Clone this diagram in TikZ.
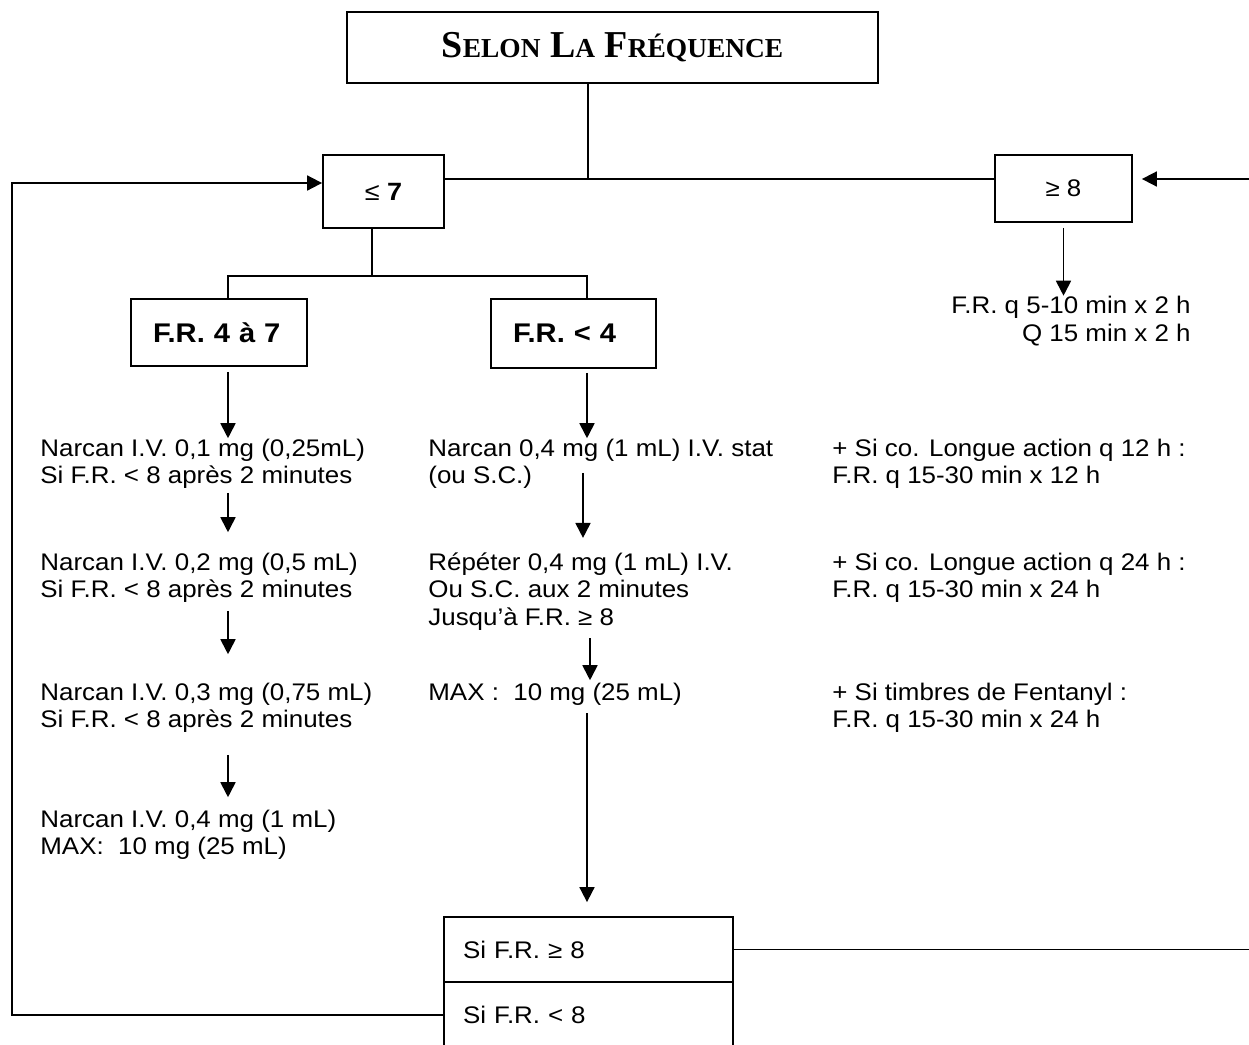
\documentclass[tikz,border=0pt]{standalone}
\usepackage{fontspec}
\setmainfont{Liberation Sans}[FakeStretch=1.08]
\newfontfamily\titrefont{Liberation Serif}
\usetikzlibrary{arrows.meta, positioning}
\newcommand{\petitecap}[1]{{\fontsize{13.7}{16}\selectfont #1}}

\begin{document}
\begin{tikzpicture}[x=0.5pt, y=-0.5pt, font=\fontsize{12}{13.75}\selectfont,
    boite/.style={draw, line width=0.9pt, inner sep=0pt},
    boitefr/.style={boite, align=left, inner xsep=11pt, font=\fontsize{13.5}{16}\selectfont\bfseries},
    boitesi/.style={boite, align=left, text width=125.5pt, inner xsep=9.5pt, minimum width=144.5pt},
    texte/.style={anchor=base west, align=left, inner sep=0pt},
    trait/.style={line width=0.9pt},
    fleche/.style={-{Triangle[length=7.5pt,width=7.5pt]}, line width=0.9pt}]
    % Cadre
    \useasboundingbox (0,0) rectangle (1249,1045);
    % Boites
    \node[boite, minimum width=265.5pt, minimum height=35.5pt] (titre) at (612.5,47.5)
        {\titrefont\bfseries\fontsize{19}{22}\selectfont S\petitecap{ELON} L\petitecap{A} F\petitecap{RÉQUENCE}};
    \node[boite, minimum width=60.5pt, minimum height=36.5pt, font=\fontsize{12.5}{14}\selectfont\bfseries] (le7) at (383.5,191.5) {{\mdseries ≤}~7};
    \node[boite, minimum width=68.5pt, minimum height=33.5pt] (ge8) at (1063.5,188.5) {≥ 8};
    \node[boitefr, text width=66pt, minimum height=33.5pt] (fr47) at (219,332.5) {F.R. 4 à 7};
    \node[boitefr, text width=60.5pt, minimum height=34.5pt] (fr4) at (573.5,333.5) {F.R. < 4};
    \node[boitesi, minimum height=32.5pt] (oui) at (588.5,949.5) {Si F.R. ≥ 8};
    \node[boitesi, minimum height=33pt] (non) at (588.5,1015) {Si F.R. < 8};
    % Textes (ancre : ligne de base de la derniere ligne)
    \node[texte] (lA) at (40,483.5) {Narcan I.V. 0,1 mg (0,25mL)\\Si F.R. < 8 après 2 minutes};
    \node[texte] (lB) at (40,597.5) {Narcan I.V. 0,2 mg (0,5 mL)\\Si F.R. < 8 après 2 minutes};
    \node[texte] (lC) at (40,727.5) {Narcan I.V. 0,3 mg (0,75 mL)\\Si F.R. < 8 après 2 minutes};
    \node[texte] (lD) at (40,854.5) {Narcan I.V. 0,4 mg (1 mL)\\MAX:~ 10 mg (25 mL)};
    \node[texte] (mA) at (428,483.5) {Narcan 0,4 mg (1 mL) I.V. stat\\(ou S.C.)};
    \node[texte] (mB) at (428,625) {Répéter 0,4 mg (1 mL) I.V.\\Ou S.C. aux 2 minutes\\Jusqu’à F.R. ≥ 8};
    \node[texte] (mC) at (428,700) {MAX :~ 10 mg (25 mL)};
    \node[texte] (rA) at (832,483.5) {+ Si co. Longue action q 12 h :\\F.R. q 15-30 min x 12 h};
    \node[texte] (rB) at (832,597.5) {+ Si co. Longue action q 24 h :\\F.R. q 15-30 min x 24 h};
    \node[texte] (rC) at (832,727.5) {+ Si timbres de Fentanyl :\\F.R. q 15-30 min x 24 h};
    \node[texte, anchor=base east, align=right] (rtop) at (1191,341) {F.R. q 5-10 min x 2 h\\Q 15 min x 2 h};
    % Points de jonction
    \coordinate (jonction) at (588,179);
    \coordinate (branche) at (372,276);
    \coordinate (colg) at (228,276);
    \coordinate (colm) at (587,276);
    \coordinate (retourg) at (12,183);
    \coordinate (retourd) at (1262,179);
    % Arbre
    \draw[trait] (titre.south -| jonction) -- (jonction);
    \draw[trait] (le7.east |- jonction) -- (ge8.west |- jonction);
    \draw[trait] (le7.south -| branche) -- (branche);
    \draw[trait] (fr47.north -| colg) -- (colg) -- (colm) -- (fr4.north -| colm);
    % Colonne gauche
    \draw[fleche, shorten <=2.5pt] (fr47.south -| colg) -- (lA.north -| colg);
    \draw[fleche, shorten <=2pt, shorten >=10pt] (lA.south -| colg) -- (lB.north -| colg);
    \draw[fleche, shorten <=4pt, shorten >=14pt] (lB.south -| colg) -- (lC.north -| colg);
    \draw[fleche, shorten <=11pt, shorten >=6pt] (lC.south -| colg) -- (lD.north -| colg);
    % Colonne centrale
    \draw[fleche, shorten <=2pt] (fr4.south -| colm) -- (mA.north -| colm);
    \draw[fleche, shorten <=-8pt, shorten >=7pt] (mA.south -| 583,0) -- (mB.north -| 583,0);
    \draw[fleche, shorten <=4pt, shorten >=1pt] (mB.south -| 590,0) -- (mC.north -| 590,0);
    \draw[fleche, shorten <=4pt, shorten >=7pt] (mC.south -| colm) -- (oui.north -| colm);
    % Colonne droite
    \draw[fleche, shorten <=2.5pt] (ge8.south) -- (rtop.north -| ge8.south);
    % Retours
    \draw[fleche] (non.west) -| (retourg) -- (le7.west |- retourg);
    \draw[fleche, shorten >=4.5pt] (oui.east) -| (retourd) -- (ge8.east |- retourd);
\end{tikzpicture}
\end{document}
